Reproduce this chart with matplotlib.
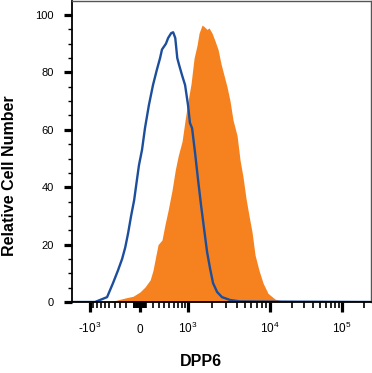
import numpy as np
import matplotlib
matplotlib.use("Agg")
import matplotlib.pyplot as plt
from matplotlib.ticker import FixedLocator, NullFormatter

# Isotype control (blue outline) - fluorescence vs relative cell number
iso_x = [-1745, -850, -550, -430, -340, -270, -220, -175, -130, -85, -45, -15, 30, 75,
         135, 200, 265, 320, 355, 430, 475, 540, 585, 635, 685, 735, 815, 905, 1000,
         1060, 1130, 1235, 1350, 1470, 1600, 1750, 1900, 2070, 2320, 2660, 3330,
         4400, 252000]
iso_y = [0, 0, 1.7, 6.6, 11, 15, 19, 24, 30, 35.5, 42.5, 47.7, 53, 60.6,
         68.6, 75.6, 81, 85, 88, 90, 92, 93.7, 94, 92, 85, 82.5, 79, 75.6, 68.6,
         62.4, 60.6, 52, 42.5, 33.8, 25.8, 17.4, 11.8, 6.6, 3.5, 1.7, 0.7,
         0.2, 0]

# DPP6 stained cells (orange filled)
dpp6_x = [-715, -390, -220, -100, 0, 75, 155, 200, 250, 285, 355, 410, 475, 560,
          635, 710, 815, 905, 1000, 1095, 1200, 1310, 1390, 1515, 1605, 1745, 1850,
          2015, 2190, 2385, 2590, 2815, 3060, 3330, 3615, 4040, 4385, 4765, 5175,
          5620, 6100, 6625, 7395, 8255, 9465, 11740, 15160, 22250]
dpp6_y = [0, 0.5, 1.4, 2, 3.5, 5.2, 7.7, 11, 16.4, 20, 21.6, 26.8, 32, 39,
          46, 51, 56, 63.4, 70, 76, 85, 89.5, 93.7, 96.5, 96, 95, 95.5,
          93.7, 91, 88, 83, 79, 75, 70, 63.4, 58, 49.5, 43.5, 36,
          30, 24.4, 16.4, 11, 6.6, 3, 1, 0.3, 0]

x_major = [-1000, 0, 1000, 10000, 100000]
x_major_labels = ["-10$^{3}$", "0", "10$^{3}$", "10$^{4}$", "10$^{5}$"]
y_major = [0, 20, 40, 60, 80, 100]

# logicle-like display: asinh, pinned so the decades land where the cytometer put them
W = 500.0
U = np.arcsinh(np.array([-1000, 0, 1000, 1e4, 1e5]) / W)
P = np.array([90, 140, 188, 270, 342], dtype=float)
U = np.concatenate([[-8.0], U, [12.0]])
P = np.concatenate([[P[0] - (U[1] + 8.0) * 50 / 1.4436], P,
                    [P[-1] + (12.0 - U[-2]) * 72 / 2.302]])


def fwd(x):
    return np.interp(np.arcsinh(np.asarray(x, dtype=float) / W), U, P)


def inv(p):
    return W * np.sinh(np.interp(np.asarray(p, dtype=float), P, U))


plt.rcParams["font.family"] = ["Liberation Sans", "DejaVu Sans"]
plt.rcParams["mathtext.fontset"] = "custom"
plt.rcParams["mathtext.rm"] = "Liberation Sans"
plt.rcParams["mathtext.it"] = "Liberation Sans"

fig = plt.figure(figsize=(3.72, 3.73), dpi=100)
ax = fig.add_axes([72 / 372, 71 / 373, 299 / 372, 301 / 373])
ax.set_xscale("function", functions=(fwd, inv))

ax.fill_between(dpp6_x, dpp6_y, 0, color="#F6821F", lw=0)
ax.plot(iso_x, iso_y, color="#1D4E9B", lw=1.7, solid_joinstyle="round")

ax.set_xlim(-1745, 252000)
ax.set_ylim(0, 104.9)

# x ticks
minor = []
for k in (10, 100):
    minor += [-m * k for m in range(2, 10)] + [m * k for m in range(2, 10)]
for k in (1000, 10000):
    minor += [m * k for m in range(2, 10)]
minor += [200000]
ax.xaxis.set_major_locator(FixedLocator(x_major))
ax.xaxis.set_minor_locator(FixedLocator(sorted(minor)))
ax.set_xticklabels(x_major_labels)
ax.xaxis.set_minor_formatter(NullFormatter())
ax.tick_params(axis="x", which="major", length=7, width=2.3, labelsize=8.5, pad=15)
ax.tick_params(axis="x", which="minor", length=4, width=1.2)
for lab in ax.get_xticklabels():
    lab.set_verticalalignment("baseline")

# y ticks
ax.yaxis.set_major_locator(FixedLocator(y_major))
ax.yaxis.set_minor_locator(FixedLocator([v for v in range(5, 105, 5) if v % 20]))
ax.tick_params(axis="y", which="major", length=6, width=2.3, labelsize=8, pad=7)
ax.tick_params(axis="y", which="minor", length=3, width=1.0)

for s in ("left", "bottom"):
    ax.spines[s].set_linewidth(1.3)
    ax.spines[s].set_color("black")
for s in ("top", "right"):
    ax.spines[s].set_linewidth(1.0)
    ax.spines[s].set_color("#555555")

fig.text(201 / 372, 1 - 362 / 373, "DPP6", ha="center", va="center",
         fontsize=11.5, fontweight="bold")
fig.text(10 / 372, 1 - 176 / 373, "Relative Cell Number", ha="center", va="center",
         rotation=90, fontsize=11.5, fontweight="bold")

fig.savefig("out.png", dpi=100)
